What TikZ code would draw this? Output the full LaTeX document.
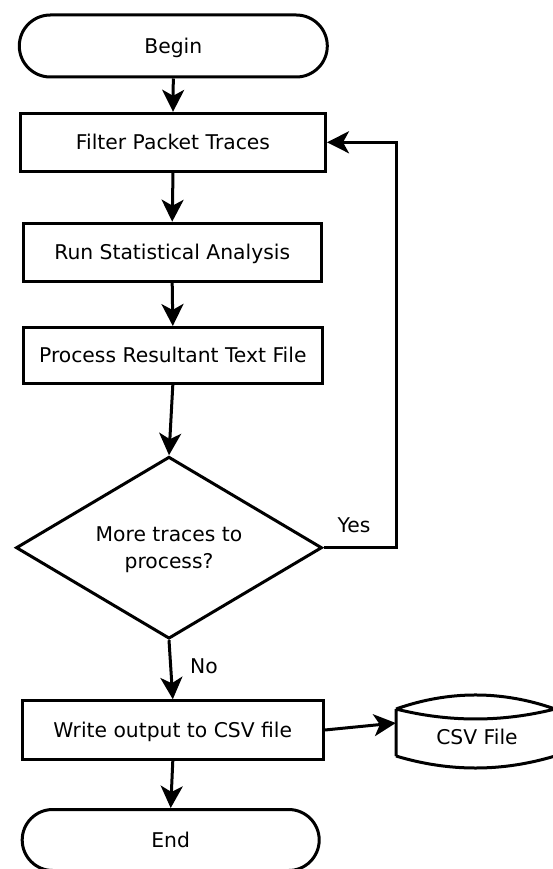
\documentclass[tikz,border=0pt]{standalone}
\usepackage{fontspec}
\setmainfont{DejaVu Sans}
\usetikzlibrary{shapes.geometric,shapes.misc,arrows.meta}

\tikzset{
  lw/.style={line width=3pt},
  boxtext/.style={text height=14.8pt, text depth=0pt},
  termbox/.style={lw, draw, rounded rectangle, inner sep=0pt, boxtext},
  procbox/.style={lw, draw, rectangle, inner sep=0pt, boxtext},
  decbox/.style={lw, draw, diamond, inner sep=0pt, align=center, text depth=0pt},
  flowarrow/.style={lw, -{Stealth[length=22pt,width=22pt,inset=6pt]}},
  lbl/.style={inner sep=0pt, boxtext}
}

\begin{document}
\begin{tikzpicture}[x=1pt, y=-1pt, font=\fontsize{20.3pt}{26.7pt}\selectfont]
  % page area
  \fill[white] (0,0) rectangle (552,869);
  \useasboundingbox (0,0) rectangle (552,869);

  % flow steps
  \node[termbox, minimum width=308pt, minimum height=62pt] (begin) at (173.3,46) {Begin};
  \node[procbox, minimum width=305pt, minimum height=58pt] (filter) at (173,142.3) {Filter Packet Traces};
  \node[procbox, minimum width=298pt, minimum height=58pt] (run) at (172.2,252.2) {Run Statistical Analysis};
  \node[procbox, minimum width=299pt, minimum height=56pt] (process) at (172.8,355.5) {Process Resultant Text File};
  \node[decbox, minimum width=306pt, minimum height=182pt, aspect=1.68] (dec) at (169,547.7) {More traces to\\process?};
  \node[procbox, minimum width=301pt, minimum height=58.5pt] (write) at (172.8,730) {Write output to CSV file};
  \node[termbox, minimum width=297pt, minimum height=61pt] (end) at (170.7,840) {End};

  % stored data file
  \node[inner sep=0pt, minimum width=159pt, minimum height=47pt] (csv) at (475.5,736) {};
  \node[lbl] at (477,737) {CSV File};
  \draw[lw, line join=round]
    (396,709) .. controls (449,690.3) and (502,690.3) .. (555,709)
    (396,709) .. controls (449,722.3) and (502,722.3) .. (555,709)
    (396,709) -- (396,756)
    (555,709) -- (555,756)
    (396,756) .. controls (449,772) and (502,772) .. (555,756);

  % connectors
  \draw[flowarrow] (begin.south) -- (filter.north);
  \draw[flowarrow] (filter.south) -- (run.north);
  \draw[flowarrow] (run.south) -- (process.north);
  \draw[flowarrow] (process.south) -- (dec.north);
  \draw[flowarrow] (dec.south) -- (write.north);
  \draw[flowarrow] (write.south) -- (end.north);
  \draw[flowarrow] (write.east) -- ([yshift=13pt]csv.west);
  \draw[flowarrow] (dec.east) -- ++(72.5,0) |- (filter.east);

  % branch labels
  \node[lbl] at (354,525) {Yes};
  \node[lbl] at (204,666.5) {No};
\end{tikzpicture}
\end{document}
